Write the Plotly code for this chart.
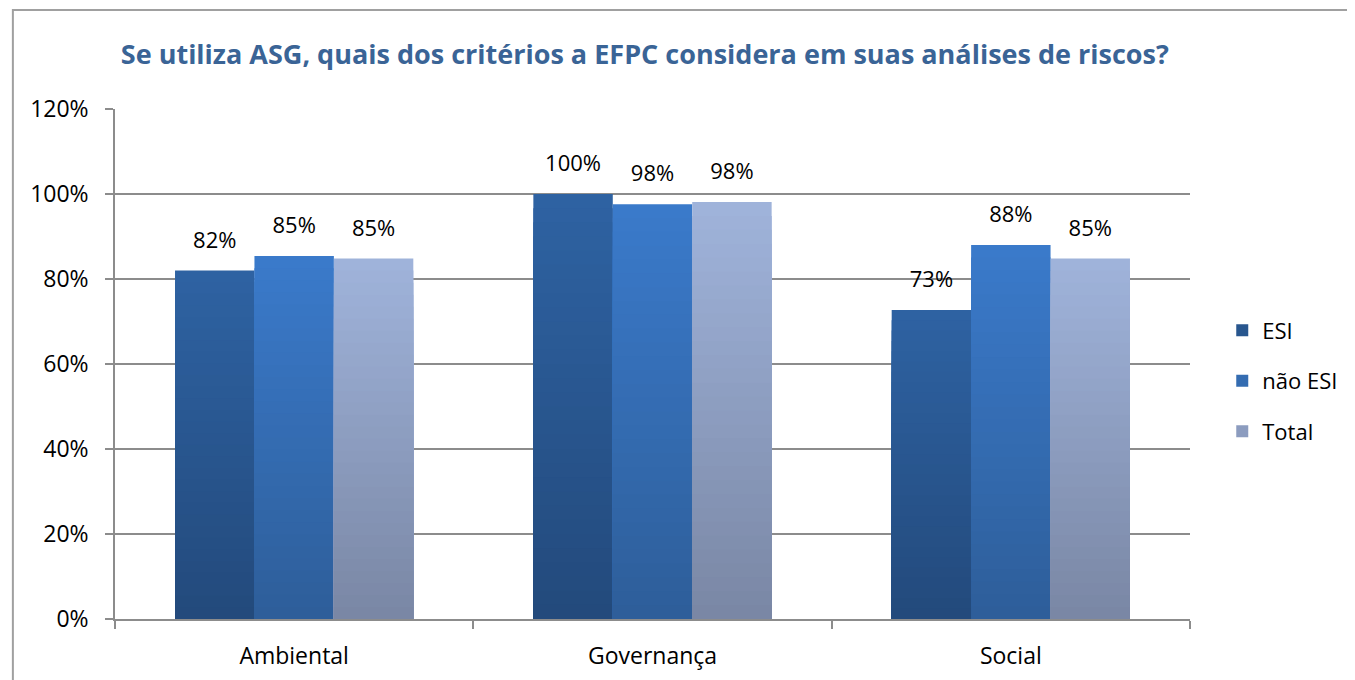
import plotly.graph_objects as go

categories = ["Ambiental", "Governança", "Social"]
esi = [0.82, 1.00, 0.727]
nao_esi = [0.854, 0.976, 0.88]
total = [0.848, 0.981, 0.848]
series_names = ["ESI", "não ESI", "Total"]
top_colors = ["#2e62a2", "#3a7aca", "#9fb3da"]
bottom_colors = ["#234a7c", "#2e5e9a", "#7a87a5"]
tick_vals = [0, 0.2, 0.4, 0.6, 0.8, 1.0, 1.2]
tick_text = ["0%", "20%", "40%", "60%", "80%", "100%", "120%"]

FONT = "Open Sans"
BARGAP = 0.335
N_STEPS = 30


def hex2rgb(h):
    h = h.lstrip("#")
    return [int(h[j:j + 2], 16) for j in (0, 2, 4)]


def mix(c1, c2, t):
    a, b = hex2rgb(c1), hex2rgb(c2)
    return "rgb({},{},{})".format(*[round(a[j] + (b[j] - a[j]) * t) for j in range(3)])


fig = go.Figure()
for i, (name, vals) in enumerate(zip(series_names, [esi, nao_esi, total])):
    # vertical gradient: layered bars of the same series, each scaled from its own value
    for k in range(N_STEPS):
        frac = 1 - k / N_STEPS
        t = k / (N_STEPS - 1)
        fig.add_trace(go.Bar(
            x=categories, y=[v * frac for v in vals], name=name,
            offsetgroup=str(i), legendgroup=str(i),
            showlegend=(k == N_STEPS // 2), hoverinfo="skip",
            marker=dict(color=mix(top_colors[i], bottom_colors[i], t), line=dict(width=0)),
        ))
for i, vals in enumerate([esi, nao_esi, total]):
    fig.add_trace(go.Scatter(
        x=categories, y=vals, mode="markers+text", offsetgroup=str(i),
        marker=dict(size=26, opacity=0), showlegend=False, hoverinfo="skip",
        text=[f"{round(v*100):.0f}%" for v in vals], textposition="top center",
        textfont=dict(family=FONT, size=22, color="#000000"), cliponaxis=False,
    ))

fig.update_layout(
    width=1355, height=680,
    paper_bgcolor="white", plot_bgcolor="white",
    barmode="group", bargap=BARGAP, bargroupgap=0,
    scattermode="group", scattergap=BARGAP,
    margin=dict(l=107, r=173, t=101, b=69, autoexpand=False),
    title=dict(text="<b>Se utiliza ASG, quais dos critérios a EFPC considera em suas análises de riscos?</b>",
               x=0.470, xanchor="center", y=0.931, yanchor="middle",
               font=dict(family=FONT, size=27, color="#3a6496")),
    legend=dict(x=1.030, y=0.467, xanchor="left", yanchor="middle",
                font=dict(family=FONT, size=22, color="#000000"),
                itemsizing="constant", tracegroupgap=19,
                traceorder="grouped", bgcolor="rgba(0,0,0,0)"),
    font=dict(family=FONT, color="#000000"),
    showlegend=True,
)
fig.update_yaxes(range=[0, 1.2], tickvals=tick_vals, ticktext=tick_text,
                 showgrid=True, gridcolor="#8c8c8c", gridwidth=1.5,
                 showline=True, linecolor="#8c8c8c", linewidth=1.5,
                 ticks="outside", ticklen=8, tickcolor="#8c8c8c", tickwidth=1.5,
                 ticklabelstandoff=12,
                 tickfont=dict(family=FONT, size=23, color="#000000"),
                 zeroline=False)
fig.update_xaxes(showline=True, linecolor="#8c8c8c", linewidth=1.5,
                 ticks="outside", tickson="boundaries", ticklen=8,
                 tickcolor="#8c8c8c", tickwidth=1.5, ticklabelstandoff=16,
                 tickfont=dict(family=FONT, size=23, color="#000000"))
fig.add_shape(type="rect", xref="paper", yref="paper",
              x0=-0.095, x1=1.3, y0=-0.3, y1=1.194,
              line=dict(color="#a0a0a0", width=2), fillcolor="rgba(0,0,0,0)", layer="below")
fig.write_html("out.html")
